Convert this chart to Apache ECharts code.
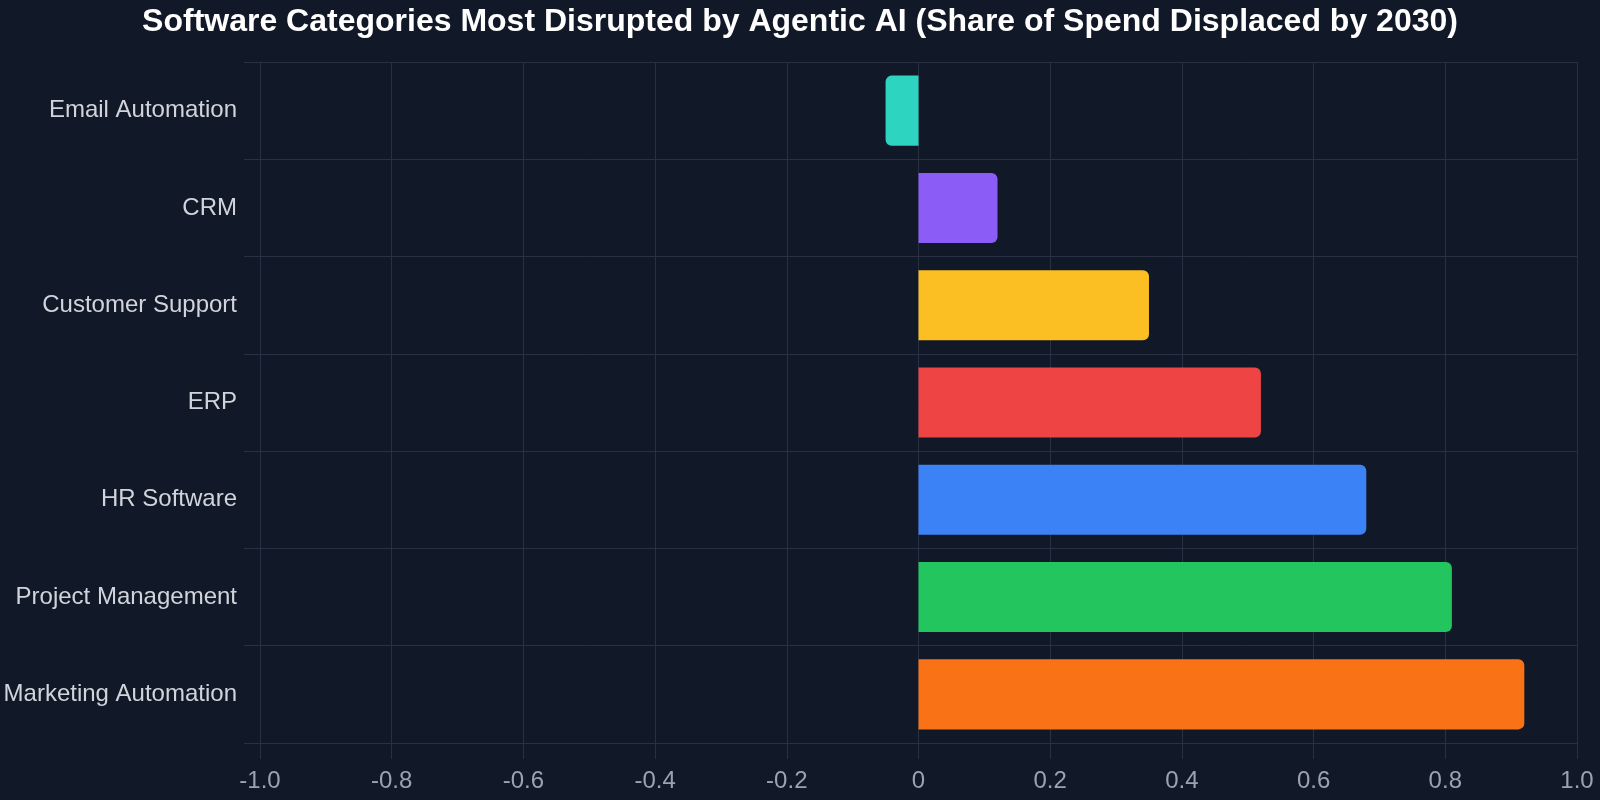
<!DOCTYPE html>
<html>
<head>
<meta charset="utf-8">
<script src="https://cdn.jsdelivr.net/npm/echarts@6/dist/echarts.min.js"></script>
<style>
html,body{margin:0;padding:0;background:#111827;}
#chart{width:1600px;height:800px;}
</style>
</head>
<body>
<div id="chart"></div>
<script>
const categories = ["Email Automation","CRM","Customer Support","ERP","HR Software","Project Management","Marketing Automation"];
const values = [-0.05, 0.12, 0.35, 0.52, 0.68, 0.81, 0.92];
const barColors = ["#2dd4bf","#8b5cf6","#fbbf24","#ef4444","#3b82f6","#22c55e","#f97316"];
const tickValues = [-1,-0.8,-0.6,-0.4,-0.2,0,0.2,0.4,0.6,0.8,1];
const tickLabels = ["-1.0","-0.8","-0.6","-0.4","-0.2","0","0.2","0.4","0.6","0.8","1.0"];

const chart = echarts.init(document.getElementById('chart'));
const gridColor = '#283042';
chart.setOption({
  backgroundColor: '#111827',
  animation: false,
  title: {
    text: 'Software Categories Most Disrupted by Agentic AI (Share of Spend Displaced by 2030)',
    left: 'center', top: 1,
    textStyle: {color: '#ffffff', fontSize: 32, fontWeight: 'bold', fontFamily: 'Liberation Sans'}
  },
  grid: {left: 260, right: 23, top: 62, bottom: 57, containLabel: false},
  xAxis: {
    type: 'value', min: -1, max: 1, interval: 0.2,
    axisLine: {show: true, onZero: false, lineStyle: {color: gridColor}},
    axisTick: {show: true, length: 16, lineStyle: {color: gridColor}},
    splitLine: {show: true, lineStyle: {color: gridColor, width: 1}},
    axisLabel: {
      color: '#9ca3af', fontSize: 24, margin: 26, fontFamily: 'Liberation Sans',
      formatter: function (v) {
        const i = tickValues.findIndex(t => Math.abs(t - v) < 1e-6);
        return i >= 0 ? tickLabels[i] : String(v);
      }
    }
  },
  yAxis: {
    type: 'category', data: categories, inverse: true,
    axisLine: {show: true, onZero: false, lineStyle: {color: gridColor}},
    axisTick: {show: true, length: 16, lineStyle: {color: gridColor}},
    splitLine: {show: true, lineStyle: {color: gridColor, width: 1}},
    axisLabel: {color: '#d1d5db', fontSize: 24, margin: 23, fontFamily: 'Liberation Sans', padding: [2, 0, 0, 0]}
  },
  series: [{
    type: 'bar',
    barWidth: '72%',
    data: values.map((v, i) => ({
      value: v,
      itemStyle: {
        color: barColors[i],
        borderRadius: v < 0 ? [6, 0, 0, 6] : [0, 6, 6, 0]
      }
    }))
  }]
});
</script>
</body>
</html>
